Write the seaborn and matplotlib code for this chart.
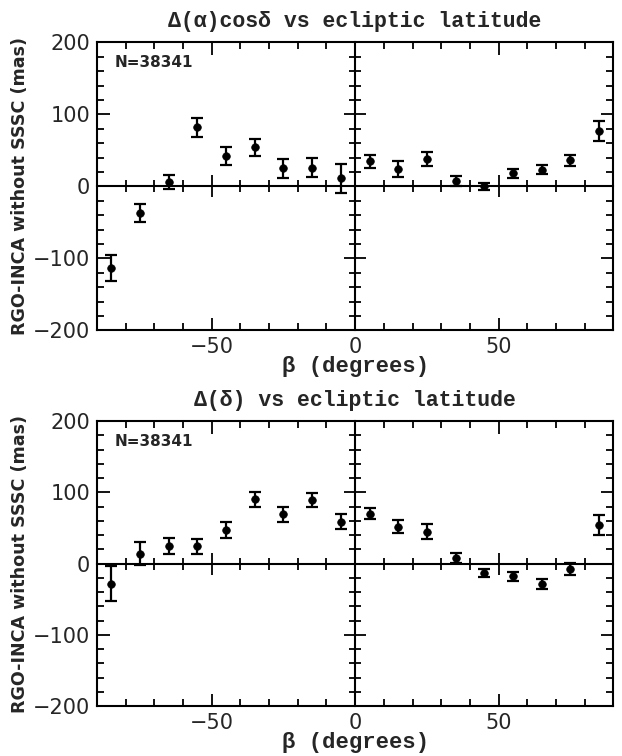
import matplotlib
matplotlib.use("Agg")
import matplotlib.pyplot as plt
import seaborn as sns
import pandas as pd
from matplotlib.ticker import MultipleLocator

# ---- data ----
beta = [-85, -75, -65, -55, -45, -35, -25, -15, -5, 5, 15, 25, 35, 45, 55, 65, 75, 85]

ra_vals = [-113, -37, 6, 82, 42, 54, 25, 26, 11, 35, 24, 38, 8, 0, 18, 23, 36, 77]
ra_err = [18, 13, 10, 13, 12, 12, 13, 13, 20, 9, 11, 10, 7, 5, 6, 6, 8, 14]

dec_vals = [-28, 14, 25, 24, 47, 90, 69, 89, 59, 70, 52, 45, 8, -13, -18, -28, -8, 54]
dec_err = [24, 16, 11, 10, 11, 10, 11, 10, 10, 8, 9, 10, 7, 6, 6, 7, 8.5, 14]

titles = ["Δ(α)cosδ vs ecliptic latitude", "Δ(δ) vs ecliptic latitude"]
n_label = "N=38341"
ylabel = "RGO-INCA without SSSC (mas)"
xlabel = "β (degrees)"

# ---- style ----
sns.set_theme(style="ticks")
plt.rcParams['font.family'] = ['DejaVu Sans']
mono = ['Liberation Mono', 'DejaVu Sans Mono']

fig = plt.figure(figsize=(6.22, 7.56), dpi=100)

# axes boxes in figure fractions (left, bottom, width, height)
rects = [[0.156, 0.563, 0.830, 0.381], [0.156, 0.066, 0.830, 0.377]]
series = [(ra_vals, ra_err), (dec_vals, dec_err)]

for rect, (vals, errs), title in zip(rects, series, titles):
    df = pd.DataFrame({"beta": beta, "val": vals, "err": errs})

    ax = fig.add_axes(rect)
    ax.errorbar(df["beta"], df["val"], yerr=df["err"], fmt="none",
                ecolor="black", elinewidth=1.6, capsize=4, capthick=1.6, zorder=3)
    sns.scatterplot(data=df, x="beta", y="val", ax=ax, color="black",
                    s=30, edgecolor="black", linewidth=0.5, zorder=4, legend=False)

    ax.set_xlim(-90, 90)
    ax.set_ylim(-200, 200)
    ax.xaxis.set_minor_locator(MultipleLocator(10))
    ax.yaxis.set_minor_locator(MultipleLocator(20))
    ax.set_yticks([-200, -100, 0, 100, 200])
    ax.set_yticklabels(["−200", "−100", "0", "100", "200"])
    ax.set_xticks([-50, 0, 50])
    ax.set_xticklabels(["−50", "0", "50"])

    for sp in ax.spines.values():
        sp.set_visible(True)
        sp.set_linewidth(1.5)
        sp.set_color("black")
    ax.tick_params(which="both", direction="in", top=True, right=True,
                   color="black", width=1.3)
    ax.tick_params(which="major", length=9, labelsize=15, pad=5)
    ax.tick_params(which="minor", length=5)

    ax.set_xlabel(xlabel, family=mono, fontweight="bold", fontsize=16, labelpad=-1)
    ax.set_ylabel(ylabel, fontweight="bold", fontsize=12.6, labelpad=3)
    ax.set_title(title, family=mono, fontweight="bold", fontsize=15.5, pad=11)
    ax.text(0.035, 0.955, n_label, transform=ax.transAxes, ha="left", va="top",
            fontsize=11, fontweight="bold")

    # cross axes through zero
    ax2 = fig.add_axes(rect, sharex=ax, sharey=ax, frameon=True)
    ax2.patch.set_visible(False)
    for side in ["top", "right"]:
        ax2.spines[side].set_visible(False)
    for side in ["left", "bottom"]:
        ax2.spines[side].set_position(("data", 0))
        ax2.spines[side].set_linewidth(1.5)
        ax2.spines[side].set_color("black")
    ax2.tick_params(which="both", direction="inout", labelleft=False,
                    labelbottom=False, color="black", width=1.3)
    ax2.tick_params(which="major", length=16)
    ax2.tick_params(which="minor", length=9)
    ax2.set_xlabel("")
    ax2.set_ylabel("")

fig.savefig("out.png", dpi=100)
